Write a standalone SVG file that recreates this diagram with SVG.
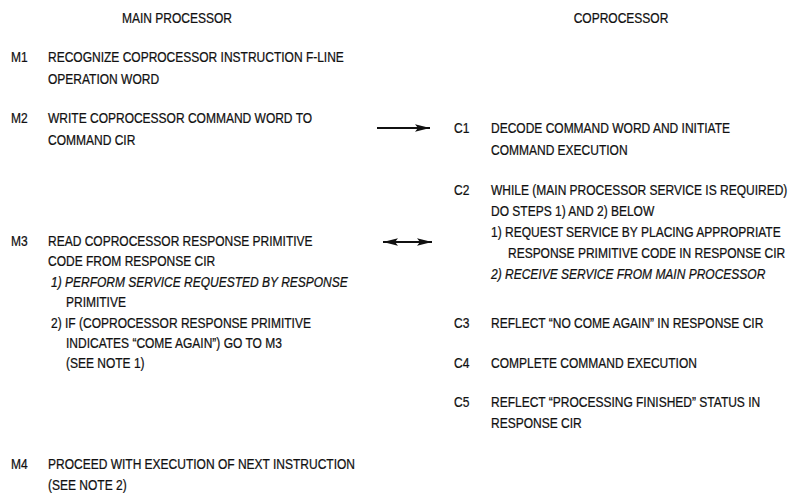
<svg xmlns="http://www.w3.org/2000/svg" width="794" height="494" viewBox="0 0 794 494">
<defs>
<style>
text{font-family:"Liberation Sans",Arial,sans-serif;font-size:14.5px;fill:#111;stroke:#111;stroke-width:0.25;}
.i{font-style:italic;}
.ln{stroke:#111;stroke-width:1.8;fill:none;}
</style>
<marker id="ah" viewBox="0 0 15 8" refX="15" refY="4" markerWidth="15" markerHeight="8" markerUnits="userSpaceOnUse" orient="auto-start-reverse">
<path d="M0,0.3 L15,4 L0,7.7 L3,4 Z" fill="#111"/>
</marker>
</defs>
<rect width="794" height="494" fill="#fff"/>
<g id="nodes" transform="scale(0.828 1)">
<g id="headers">
<text x="213.8" y="23" text-anchor="middle">MAIN PROCESSOR</text>
<text x="750" y="23" text-anchor="middle">COPROCESSOR</text>
</g>
<g id="M1">
<text x="13.3" y="62">M1</text>
<text x="58" y="62">RECOGNIZE COPROCESSOR INSTRUCTION F-LINE</text>
<text x="58" y="84">OPERATION WORD</text>
</g>
<g id="M2">
<text x="13.3" y="123">M2</text>
<text x="58" y="123">WRITE COPROCESSOR COMMAND WORD TO</text>
<text x="58" y="145">COMMAND CIR</text>
</g>
<g id="M3">
<text x="13.3" y="246">M3</text>
<text x="58" y="246">READ COPROCESSOR RESPONSE PRIMITIVE</text>
<text x="58" y="266">CODE FROM RESPONSE CIR</text>
<text x="61.6" y="287" class="i">1) PERFORM SERVICE REQUESTED BY RESPONSE</text>
<text x="79.7" y="307">PRIMITIVE</text>
<text x="61.6" y="328">2) IF (COPROCESSOR RESPONSE PRIMITIVE</text>
<text x="79.7" y="348">INDICATES “COME AGAIN”) GO TO M3</text>
<text x="79.7" y="368">(SEE NOTE 1)</text>
</g>
<g id="M4">
<text x="13.3" y="469">M4</text>
<text x="58" y="469">PROCEED WITH EXECUTION OF NEXT INSTRUCTION</text>
<text x="58" y="490">(SEE NOTE 2)</text>
</g>
<g id="C1">
<text x="548.3" y="133">C1</text>
<text x="593" y="133">DECODE COMMAND WORD AND INITIATE</text>
<text x="593" y="155">COMMAND EXECUTION</text>
</g>
<g id="C2">
<text x="548.3" y="195">C2</text>
<text x="593" y="195">WHILE (MAIN PROCESSOR SERVICE IS REQUIRED)</text>
<text x="593" y="216">DO STEPS 1) AND 2) BELOW</text>
<text x="593" y="237">1) REQUEST SERVICE BY PLACING APPROPRIATE</text>
<text x="613.5" y="258">RESPONSE PRIMITIVE CODE IN RESPONSE CIR</text>
<text x="593" y="279" class="i">2) RECEIVE SERVICE FROM MAIN PROCESSOR</text>
</g>
<g id="C3">
<text x="548.3" y="328">C3</text>
<text x="593" y="328">REFLECT “NO COME AGAIN” IN RESPONSE CIR</text>
</g>
<g id="C4">
<text x="548.3" y="368">C4</text>
<text x="593" y="368">COMPLETE COMMAND EXECUTION</text>
</g>
<g id="C5">
<text x="548.3" y="407">C5</text>
<text x="593" y="407">REFLECT “PROCESSING FINISHED” STATUS IN</text>
<text x="593" y="428">RESPONSE CIR</text>
</g>
</g>
<g id="connectors">
<line class="ln" x1="377" y1="128" x2="430" y2="128" marker-end="url(#ah)"/>
<line class="ln" x1="383" y1="242" x2="432" y2="242" marker-start="url(#ah)" marker-end="url(#ah)"/>
</g>
</svg>
